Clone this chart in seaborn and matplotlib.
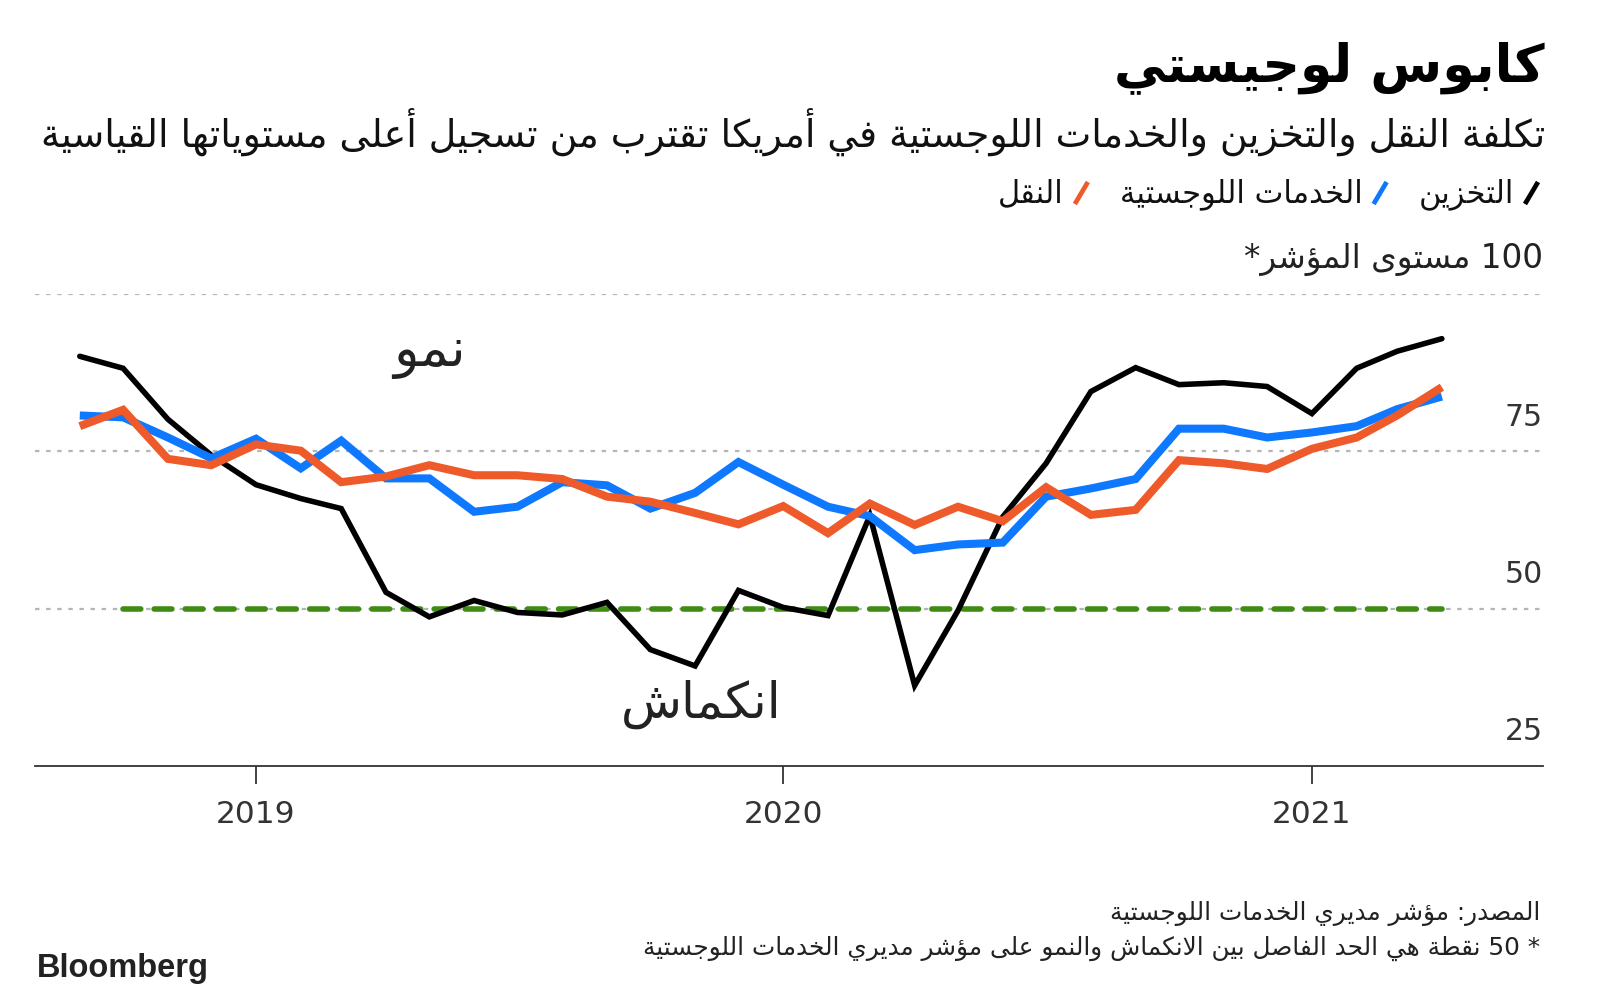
import re
import pandas as pd
import matplotlib.pyplot as plt
import seaborn as sns
from matplotlib.lines import Line2D

# monthly index readings, Sep 2018 .. Apr 2021
months = pd.date_range('2018-09-01', periods=32, freq='MS')
storage = [90.1, 88.2, 80.1, 74.4, 69.7, 67.5, 65.9, 52.6, 48.7, 51.3, 49.4, 49.0,
           51.0, 43.5, 40.9, 52.9, 50.2, 48.9, 64.8, 37.8, 49.7, 64.6, 73.1, 84.5,
           88.3, 85.6, 85.9, 85.3, 81.0, 88.2, 90.9, 92.9]
logistics = [80.7, 80.4, 77.2, 73.9, 77.0, 72.3, 76.7, 70.7, 70.7, 65.4, 66.2, 70.1,
             69.6, 65.9, 68.4, 73.3, 69.7, 66.2, 64.7, 59.3, 60.2, 60.5, 67.8, 69.1,
             70.6, 78.6, 78.6, 77.2, 78.0, 79.0, 81.7, 83.7]
transport = [79.0, 81.6, 73.8, 72.8, 76.1, 75.1, 70.1, 71.0, 72.8, 71.2, 71.2, 70.6,
             67.8, 67.0, 65.2, 63.4, 66.3, 62.0, 66.7, 63.3, 66.2, 63.9, 69.3, 64.9,
             65.7, 73.6, 73.1, 72.2, 75.4, 77.2, 80.7, 85.2]
threshold = 50
grid_levels = [100, 75, 50]
label_levels = [75, 50, 25]
year_ticks = ['2019', '2020', '2021']

title = 'كابوس لوجيستي'
subtitle = 'تكلفة النقل والتخزين والخدمات اللوجستية في أمريكا تقترب من تسجيل أعلى مستوياتها القياسية'
series_names = ['التخزين', 'الخدمات اللوجستية', 'النقل']
unit_label = '100 مستوى المؤشر*'
source = 'المصدر: مؤشر مديري الخدمات اللوجستية'
note = '* 50 نقطة هي الحد الفاصل بين الانكماش والنمو على مؤشر مديري الخدمات اللوجستية'

# --- minimal arabic shaping (presentation forms) + visual order ---
AR_FORMS = {
    'ء': (0xFE80, 1), 'آ': (0xFE81, 2), 'أ': (0xFE83, 2), 'ؤ': (0xFE85, 2),
    'إ': (0xFE87, 2), 'ئ': (0xFE89, 4), 'ا': (0xFE8D, 2), 'ب': (0xFE8F, 4),
    'ة': (0xFE93, 2), 'ت': (0xFE95, 4), 'ث': (0xFE99, 4), 'ج': (0xFE9D, 4),
    'ح': (0xFEA1, 4), 'خ': (0xFEA5, 4), 'د': (0xFEA9, 2), 'ذ': (0xFEAB, 2),
    'ر': (0xFEAD, 2), 'ز': (0xFEAF, 2), 'س': (0xFEB1, 4), 'ش': (0xFEB5, 4),
    'ص': (0xFEB9, 4), 'ض': (0xFEBD, 4), 'ط': (0xFEC1, 4), 'ظ': (0xFEC5, 4),
    'ع': (0xFEC9, 4), 'غ': (0xFECD, 4), 'ف': (0xFED1, 4), 'ق': (0xFED5, 4),
    'ك': (0xFED9, 4), 'ل': (0xFEDD, 4), 'م': (0xFEE1, 4), 'ن': (0xFEE5, 4),
    'ه': (0xFEE9, 4), 'و': (0xFEED, 2), 'ى': (0xFEEF, 2), 'ي': (0xFEF1, 4),
}
LAM_ALEF = {'ا': 0xFEFB, 'أ': 0xFEF7, 'إ': 0xFEF9, 'آ': 0xFEF5}


def ar(text):
    out = []
    prev_joins = False
    i = 0
    while i < len(text):
        c = text[i]
        nxt = text[i + 1] if i + 1 < len(text) else ''
        if c == 'ل' and nxt in LAM_ALEF:
            out.append(chr(LAM_ALEF[nxt] + (1 if prev_joins else 0)))
            prev_joins = False
            i += 2
            continue
        if c in AR_FORMS:
            base, nf = AR_FORMS[c]
            cp = prev_joins and nf >= 2
            cn = nf == 4 and nxt in AR_FORMS and AR_FORMS[nxt][1] >= 2
            form = 3 if (cp and cn) else 1 if cp else 2 if cn else 0
            out.append(chr(base + form))
            prev_joins = nf == 4
        else:
            out.append(c)
            prev_joins = False
        i += 1
    tokens = re.findall(r'[0-9]+|.', ''.join(out))
    return ''.join(reversed(tokens))


sns.set_style('white')
plt.rcParams['font.family'] = ['DejaVu Sans']

W, H = 1600, 1003
fig = plt.figure(figsize=(16, 10.03), dpi=100)


def fx(x):
    return x / W


def fy(y):
    return 1 - y / H


ax = fig.add_axes([fx(35), fy(767), fx(1543) - fx(35), fy(295) - fy(767)])

df = pd.DataFrame({'month': months, 'storage': storage,
                   'logistics': logistics, 'transport': transport})

sns.lineplot(data=df, x='month', y='storage', color='#000000', linewidth=4.0, ax=ax,
             solid_capstyle='round', solid_joinstyle='miter', zorder=3)
sns.lineplot(data=df, x='month', y='logistics', color='#0e78ff', linewidth=5.8, ax=ax,
             solid_capstyle='butt', solid_joinstyle='miter', zorder=4)
sns.lineplot(data=df, x='month', y='transport', color='#ee5a2a', linewidth=5.8, ax=ax,
             solid_capstyle='butt', solid_joinstyle='miter', zorder=5)

# growth / contraction threshold
ax.plot([months[1], months[-1]], [threshold, threshold], color='#3e8c13', lw=4.0,
        dashes=(3.2, 2.4), dash_capstyle='round', zorder=2)

for lv in grid_levels:
    ax.axhline(lv, color='#b5b5b5', lw=1.6, linestyle=(0, (2.0, 3.0)), zorder=1)

ax.set_ylim(25, 100)
ax.set_xlim(pd.Timestamp('2018-08-01'), pd.Timestamp('2021-06-10'))
ax.set_xticks([pd.Timestamp(y + '-01-01') for y in year_ticks])
ax.set_xticklabels(year_ticks)
ax.set_yticks([])
ax.set_xlabel('')
ax.set_ylabel('')
for s in ['top', 'left', 'right']:
    ax.spines[s].set_visible(False)
ax.spines['bottom'].set_color('#333333')
ax.spines['bottom'].set_linewidth(1.3)
ax.tick_params(axis='x', direction='out', length=13, width=1.3, color='#333333',
               labelsize=22.5, labelcolor='#333333', pad=11, bottom=True)

trans = ax.get_yaxis_transform()
for lv in label_levels:
    ax.text(1.0, lv + 5.6, str(lv), transform=trans, ha='right', va='center',
            fontsize=21.5, color='#333333', clip_on=False)
ax.text(1.0, 100 + 5.6, ar(unit_label), transform=trans, ha='right', va='center',
        fontsize=23.5, color='#222222', clip_on=False)

ax.text(pd.Timestamp('2019-05-01'), 90.8, ar('نمو'), ha='center', va='center',
        fontsize=38, color='#222222')
ax.text(pd.Timestamp('2019-11-05'), 35.0, ar('انكماش'), ha='center', va='center',
        fontsize=36, color='#222222')

# header
fig.text(fx(1545), fy(68), ar(title), ha='right', va='center', fontsize=37.5,
         fontweight='bold', color='#000000')
fig.text(fx(1545), fy(132), ar(subtitle), ha='right', va='center', fontsize=27.3,
         color='#111111')

# legend built right to left
renderer = fig.canvas.get_renderer()
x = 1545
ly = 194
for name, col in zip(series_names, ['#000000', '#0e78ff', '#ee5a2a']):
    fig.add_artist(Line2D([fx(x - 20), fx(x - 7)], [fy(ly + 11), fy(ly - 11)],
                          transform=fig.transFigure, color=col, lw=3.4,
                          solid_capstyle='butt'))
    t = fig.text(fx(x - 31), fy(ly), ar(name), ha='right', va='center',
                 fontsize=22, color='#111111')
    bb = t.get_window_extent(renderer)
    x = bb.x0 - 25

# footer
fig.text(fx(1540), fy(914), ar(source), ha='right', va='center', fontsize=17.8,
         color='#222222')
fig.text(fx(1540), fy(948), ar(note), ha='right', va='center', fontsize=17.8,
         color='#222222')
fig.text(fx(37), fy(969), 'Bloomberg', ha='left', va='center', fontsize=23.5,
         fontweight='bold', family=['Liberation Sans', 'DejaVu Sans'],
         color='#222222')

fig.savefig('out.png', dpi=100)
